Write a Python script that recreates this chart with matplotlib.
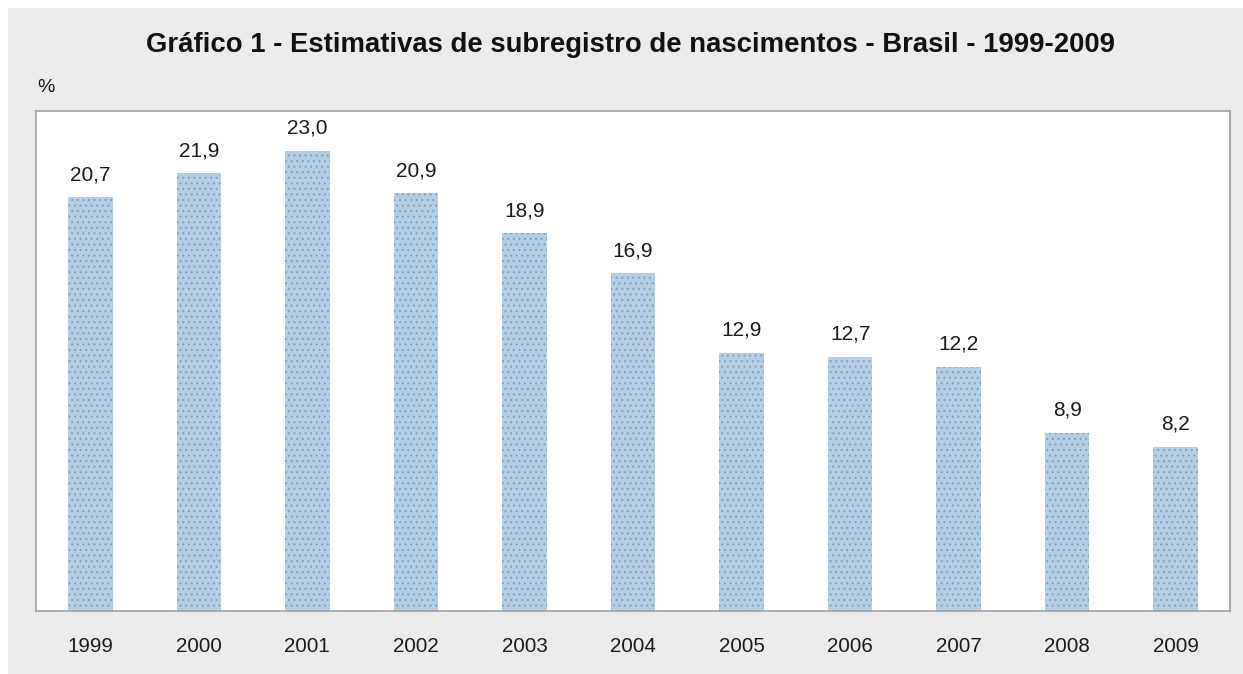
import matplotlib
matplotlib.use('Agg')
import matplotlib.pyplot as plt
from matplotlib.patches import Rectangle

plt.rcParams['font.family'] = ['Liberation Sans', 'DejaVu Sans']
plt.rcParams['hatch.linewidth'] = 0.8

years = ['1999', '2000', '2001', '2002', '2003', '2004', '2005', '2006', '2007', '2008', '2009']
values = [20.7, 21.9, 23.0, 20.9, 18.9, 16.9, 12.9, 12.7, 12.2, 8.9, 8.2]
labels = ['20,7', '21,9', '23,0', '20,9', '18,9', '16,9', '12,9', '12,7', '12,2', '8,9', '8,2']

W, H = 1243, 674
fig = plt.figure(figsize=(W / 100, H / 100), dpi=100, facecolor='white')
# grey panel behind everything, white strip at top and left
fig.patches.append(Rectangle((8 / W, 0), 1, 1 - 8 / H, transform=fig.transFigure,
                             facecolor='#ebebeb', edgecolor='none', zorder=-10))

ax = fig.add_axes([36 / W, (H - 611) / H, (1230 - 36) / W, (611 - 111) / H])
ax.set_facecolor('white')

x = range(len(years))
bars = ax.bar(x, values, width=0.41, color='#b0cfeb', edgecolor='#939aa2',
              linewidth=0, hatch='...')
for b, lab in zip(bars, labels):
    ax.text(b.get_x() + b.get_width() / 2, b.get_height() + 0.65, lab,
            ha='center', va='bottom', fontsize=15, color='#1a1a1a')

ax.set_xlim(-0.5, len(years) - 0.5)
ax.set_ylim(0, 25)
ax.set_xticks(list(x))
ax.set_xticklabels(years, fontsize=14.8, color='#1a1a1a')
ax.tick_params(axis='x', length=0, pad=19)
ax.set_yticks([])
for s in ax.spines.values():
    s.set_color('#a0a0a0')
    s.set_linewidth(1.2)

fig.text(630 / W, 1 - 45 / H, 'Gráfico 1 - Estimativas de subregistro de nascimentos - Brasil - 1999-2009',
         ha='center', va='center', fontsize=19.8, fontweight='bold', color='#111111')
fig.text(37 / W, 1 - 88 / H, '%', ha='left', va='center', fontsize=14, color='#1a1a1a')

fig.savefig('out.png', dpi=100, facecolor=fig.get_facecolor())
